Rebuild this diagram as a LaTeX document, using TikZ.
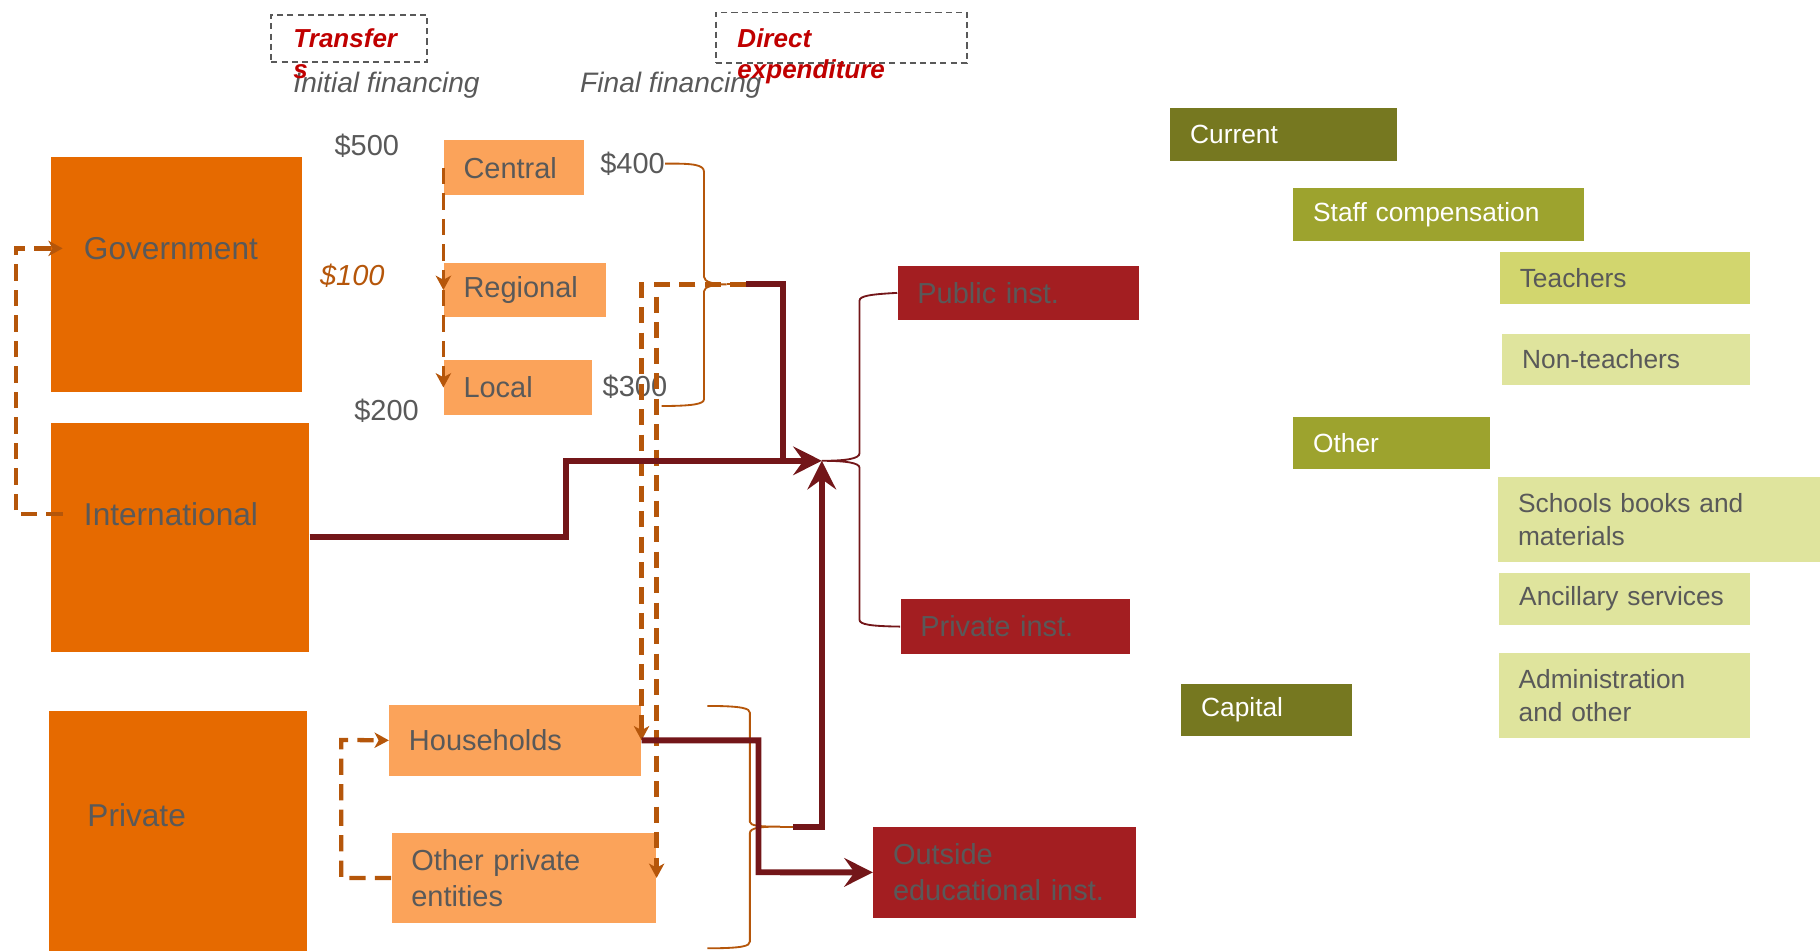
\documentclass[tikz,border=0pt]{standalone}
\usepackage{fontspec}
\setmainfont{Liberation Sans}
\usepackage{xcolor}
\usepackage{tikz}
\usetikzlibrary{arrows.meta}

\definecolor{orgdark}{HTML}{E66A00}
\definecolor{orglight}{HTML}{FBA35A}
\definecolor{txtgray}{HTML}{595959}
\definecolor{dashorg}{HTML}{B5560A}
\definecolor{flowred}{HTML}{731619}
\definecolor{instred}{HTML}{A31E21}
\definecolor{olivedk}{HTML}{767820}
\definecolor{olivemd}{HTML}{9DA32E}
\definecolor{olivelt}{HTML}{D2D66E}
\definecolor{olivepl}{HTML}{DFE49D}
\definecolor{ttlred}{HTML}{C00000}
\definecolor{boxgray}{HTML}{595959}

\tikzset{
  bigbox/.style={fill=orgdark, inner sep=0pt, anchor=north west},
  biglbl/.style={text=txtgray, font=\fontsize{15.5}{18}\selectfont, inner xsep=0.36cm, inner ysep=0pt, anchor=west},
  srcbox/.style={fill=orglight, text=txtgray, font=\fontsize{14.2}{17.6}\selectfont, inner xsep=0.34cm, inner ysep=0pt, align=left, anchor=north west},
  instbox/.style={srcbox, fill=instred},
  catbox/.style={inner xsep=0.34cm, inner ysep=0pt, align=left, anchor=north west, font=\fontsize{12.9}{15.9}\selectfont},
  catdark/.style={catbox, fill=olivedk, text=white},
  catmid/.style={catbox, fill=olivemd, text=white},
  catlt/.style={catbox, fill=olivelt, text=txtgray},
  catpale/.style={catbox, fill=olivepl, text=txtgray},
  amt/.style={text=txtgray, font=\fontsize{14.2}{17}\selectfont, inner sep=0pt},
  hdr/.style={text=txtgray, font=\fontsize{13.8}{16}\selectfont\itshape, inner sep=0pt, anchor=base west},
  ttl/.style={text=ttlred, font=\fontsize{12.75}{15.5}\selectfont\bfseries\itshape, inner sep=0pt, align=left, anchor=north west},
  dashbox/.style={draw=boxgray, line width=0.9pt, dash pattern=on 3pt off 2pt, inner sep=0pt, anchor=north west},
  flowline/.style={draw=flowred, line width=2.9pt},
  flow/.style={flowline, -{Stealth[length=14pt, width=14pt, inset=5pt]}},
  xfer/.style={draw=dashorg, line width=2.1pt, dash pattern=on 8pt off 4.5pt, -{Stealth[length=7pt, width=7.5pt, inset=2pt]}},
  brace/.style={draw=dashorg, line width=0.9pt},
  ibrace/.style={draw=flowred, line width=0.9pt},
}

\begin{document}
\begin{tikzpicture}
    \useasboundingbox (0,0) rectangle (31.36,16.38);
    % Initial sources
    \node[bigbox, minimum width=4.32cm, minimum height=4.04cm] (gov) at (0.88,13.68) {};
    \node[bigbox, minimum width=4.44cm, minimum height=3.94cm] (intl) at (0.88,9.10) {};
    \node[bigbox, minimum width=4.44cm, minimum height=4.14cm] (priv) at (0.84,4.14) {};
    \node[biglbl] (govlbl) at (1.08,12.10) {Government};
    \node[biglbl] (intllbl) at (1.08,7.52) {International};
    \node[biglbl] (privlbl) at (1.14,2.34) {Private};
    % Levels of government and private funders
    \node[srcbox, text width=1.74cm, minimum height=0.95cm] (central) at (7.64,13.97) {Central};
    \node[srcbox, text width=2.12cm, minimum height=0.94cm] (regional) at (7.64,11.86) {Regional};
    \node[srcbox, text width=1.88cm, minimum height=0.94cm] (local) at (7.64,10.18) {Local};
    \node[srcbox, text width=3.66cm, minimum height=1.22cm] (hh) at (6.70,4.24) {Households};
    \node[srcbox, text width=3.88cm, minimum height=1.56cm] (otherpriv) at (6.74,2.04) {Other private\\entities};
    % Amounts
    \node[amt] (a500) at (6.32,13.86) {\$500};
    \node[amt, text=dashorg, font=\fontsize{14.2}{17}\selectfont\itshape] (a100) at (6.07,11.62) {\$100};
    \node[amt] (a200) at (6.66,9.30) {\$200};
    \node[amt] (a400) at (10.90,13.56) {\$400};
    \node[amt] (a300) at (10.94,9.72) {\$300};
    % Institutions
    \node[instbox, text width=3.47cm, minimum height=0.94cm] (pubinst) at (15.46,11.81) {Public inst.};
    \node[instbox, text width=3.27cm, minimum height=0.94cm] (privinst) at (15.51,6.06) {Private inst.};
    \node[instbox, text width=3.84cm, minimum height=1.57cm] (outside) at (15.04,2.14) {Outside\\educational inst.};
    % Nature of spending
    \node[catdark, text width=3.22cm, minimum height=0.90cm] (current) at (20.16,14.52) {Current};
    \node[catmid, text width=4.32cm, minimum height=0.90cm] (staff) at (22.28,13.14) {Staff compensation};
    \node[catlt, text width=3.62cm, minimum height=0.90cm] (teachers) at (25.84,12.04) {Teachers};
    \node[catpale, text width=3.58cm, minimum height=0.89cm] (nonteach) at (25.88,10.64) {Non-teachers};
    \node[catmid, text width=2.70cm, minimum height=0.90cm] (other) at (22.28,9.20) {Other};
    \node[catpale, text width=4.87cm, minimum height=1.47cm] (books) at (25.81,8.17) {Schools books and\\materials};
    \node[catpale, text width=3.63cm, minimum height=0.89cm] (ancillary) at (25.83,6.51) {Ancillary services};
    \node[catpale, text width=3.64cm, minimum height=1.46cm] (admin) at (25.82,5.13) {Administration\\and other};
    \node[catdark, text width=2.25cm, minimum height=0.90cm] (capital) at (20.35,4.60) {Capital};
    % Brace points
    \coordinate (fintip) at (12.86,11.48);
    \coordinate (pvtip) at (13.67,2.136);
    \coordinate (insttip) at (14.16,8.44);
    % Braces
    \draw[brace] (a400.east) .. controls (11.95,13.566) and (12.13,13.54) .. (12.13,13.42) -- (12.13,11.61)
        .. controls (12.13,11.52) and (12.30,11.48) .. (12.52,11.48)
        .. controls (12.30,11.48) and (12.13,11.44) .. (12.13,11.36) -- (12.13,9.50)
        .. controls (12.13,9.42) and (11.95,9.384) .. (11.40,9.384);
    \draw[brace] (12.52,11.48) -- (fintip);
    \draw[brace] (12.19,4.216) .. controls (12.80,4.216) and (12.92,4.17) .. (12.92,4.10) -- (12.92,2.22)
        .. controls (12.92,2.15) and (13.10,2.136) .. (13.44,2.136)
        .. controls (13.10,2.136) and (12.92,2.12) .. (12.92,2.02) -- (12.92,0.154)
        .. controls (12.92,0.08) and (12.80,0.04) .. (12.19,0.04);
    \draw[brace] (13.44,2.136) -- (pvtip);
    \draw[ibrace] (pubinst.west) .. controls (15.00,11.31) and (14.81,11.28) .. (14.81,11.20) -- (14.81,8.57)
        .. controls (14.81,8.48) and (14.60,8.44) .. (insttip)
        .. controls (14.60,8.44) and (14.81,8.40) .. (14.81,8.32) -- (14.81,5.70)
        .. controls (14.81,5.62) and (15.00,5.59) .. (privinst.west);
    % Transfers
    \draw[xfer] (intllbl.west) -| (0.27,12.10) -- (govlbl.west);
    \draw[xfer, line width=1.6pt] (central.west) -- (regional.west);
    \draw[xfer, line width=1.6pt] (regional.west) -- (local.west);
    \draw[xfer] (otherpriv.west) -| (5.88,3.63) -- (hh.west);
    \draw[xfer] (fintip) -| (hh.east);
    \draw[xfer] (fintip) -| (otherpriv.east);
    % Direct expenditure
    \draw[flowline] (fintip) -| (13.49,8.44);
    \draw[flow] (intl.east) -| (9.75,8.44) -- (insttip);
    \draw[flow] (pvtip) -| (insttip);
    \draw[flow] (hh.east) -| (13.07,1.35) -- (outside.west);
    % Headings
    \node[dashbox, minimum width=2.68cm, minimum height=0.82cm] (xferbox) at (4.66,16.14) {};
    \node[dashbox, minimum width=4.32cm, minimum height=0.87cm] (dirbox) at (12.32,16.18) {};
    \node[hdr] (initfin) at (5.05,14.78) {Initial financing};
    \node[hdr] (finfin) at (9.99,14.78) {Final financing};
    \node[ttl] (xferlbl) at (5.05,15.90) {Transfer\\s};
    \node[ttl] (dirlbl) at (12.70,15.90) {Direct\\expenditure};
\end{tikzpicture}
\end{document}
